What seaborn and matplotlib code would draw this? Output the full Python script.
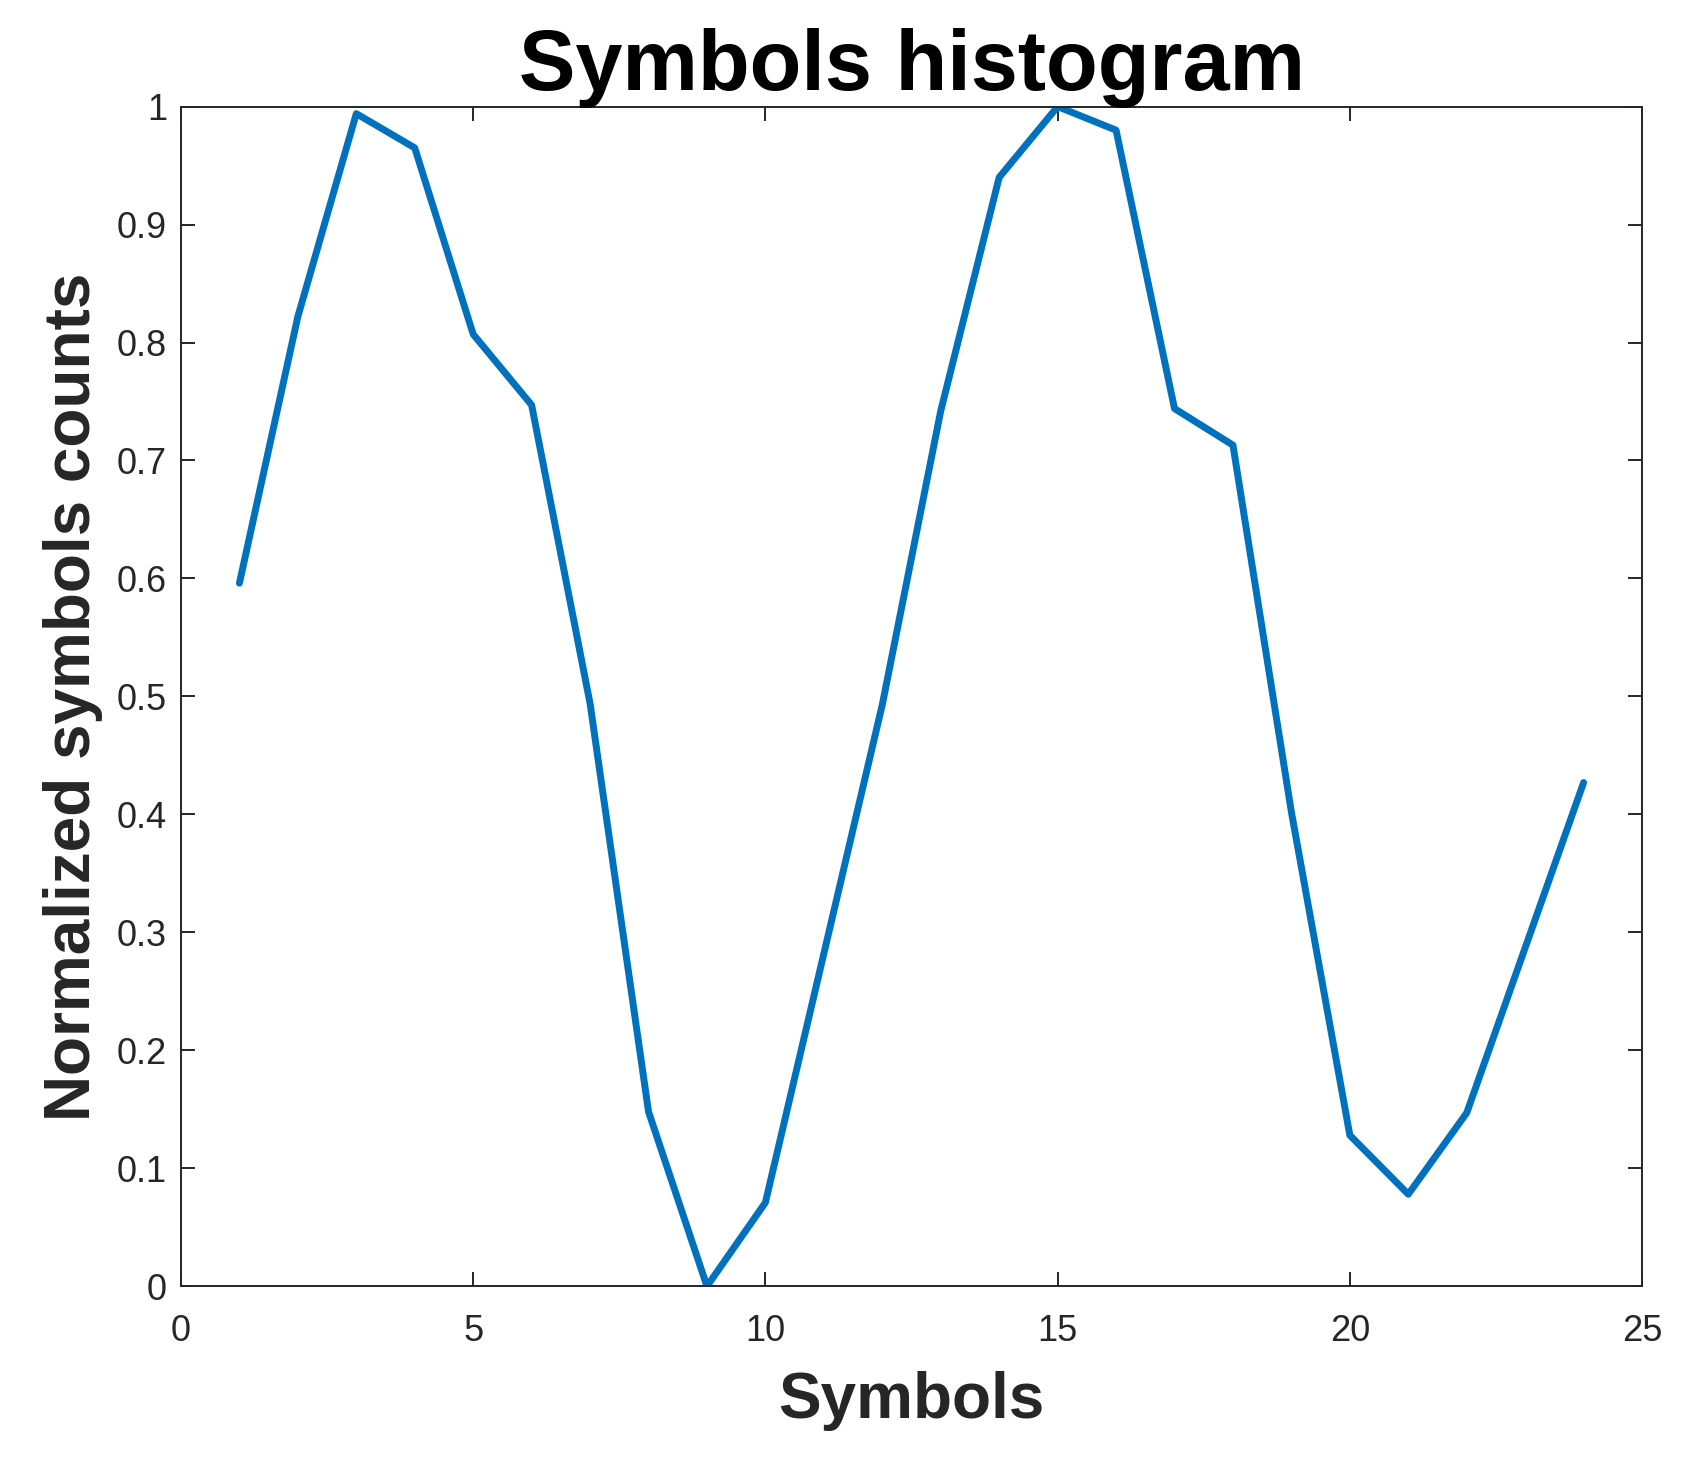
import numpy as np
import pandas as pd
import matplotlib
matplotlib.use("Agg")
import matplotlib.pyplot as plt
import seaborn as sns

# values
symbols = list(range(1, 25))
norm_counts = [0.596, 0.822, 0.994, 0.965, 0.807, 0.747, 0.494, 0.148,
               0.000, 0.071, 0.282, 0.493, 0.742, 0.940, 1.000, 0.980,
               0.744, 0.713, 0.402, 0.128, 0.078, 0.147, 0.287, 0.427]
x_ticks = [0, 5, 10, 15, 20, 25]
y_ticks = [0, 0.1, 0.2, 0.3, 0.4, 0.5, 0.6, 0.7, 0.8, 0.9, 1.0]
y_tick_labels = ["0", "0.1", "0.2", "0.3", "0.4", "0.5", "0.6", "0.7", "0.8", "0.9", "1"]

df = pd.DataFrame({"symbol": symbols, "count": norm_counts})

sns.set_theme(style="ticks")
plt.rcParams["font.family"] = ["Liberation Sans", "DejaVu Sans"]
dark = "#262626"

fig = plt.figure(figsize=(16.96, 14.6), dpi=100)
ax = fig.add_axes([0.1067, 0.119, 0.8615, 0.808])

sns.lineplot(data=df, x="symbol", y="count", ax=ax, color="#0072BD", linewidth=5)

ax.set_xlim(0, 25)
ax.set_ylim(0, 1)
ax.set_xticks(x_ticks)
ax.set_xticklabels([str(t) for t in x_ticks])
ax.set_yticks(y_ticks)
ax.set_yticklabels(y_tick_labels)

ax.tick_params(axis="both", direction="in", length=10, width=1.4, colors=dark,
               labelsize=26, top=True, right=True)
ax.tick_params(axis="x", pad=20)
ax.tick_params(axis="y", pad=10)
for s in ax.spines.values():
    s.set_visible(True)
    s.set_color(dark)
    s.set_linewidth(1.4)

ax.set_title("Symbols histogram", fontsize=61, fontweight="bold", color="black", pad=12)
ax.set_xlabel("Symbols", fontsize=46, fontweight="bold", color=dark, labelpad=16)
ax.set_ylabel("Normalized symbols counts", fontsize=46, fontweight="bold", color=dark, labelpad=10)

fig.savefig("out.png", dpi=100)
